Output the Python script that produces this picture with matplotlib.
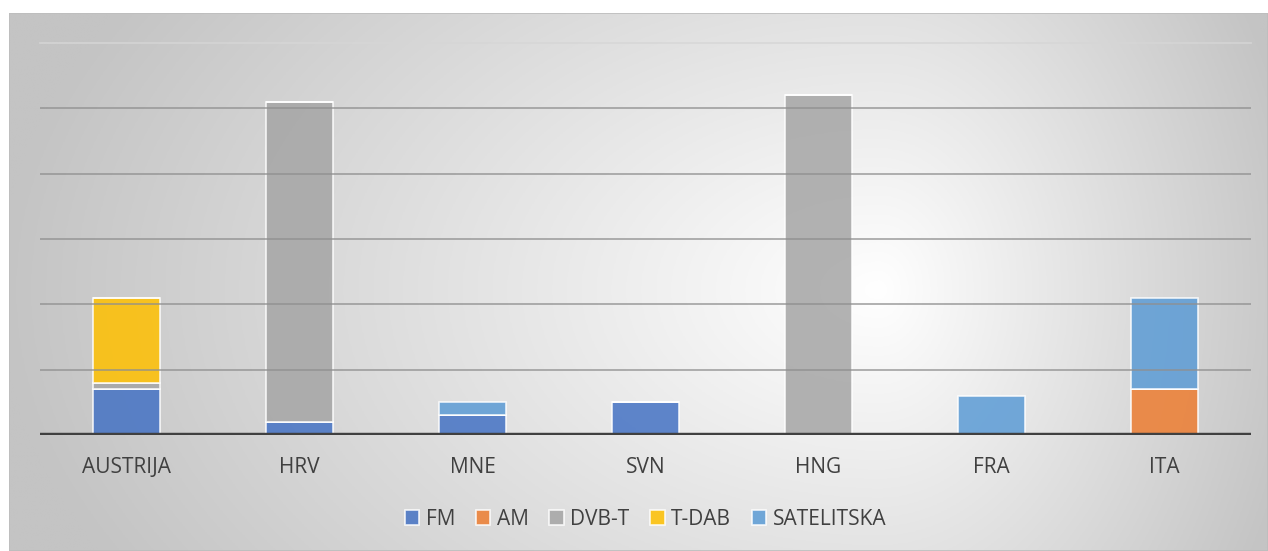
import numpy as np
import matplotlib.pyplot as plt
from matplotlib.patches import Rectangle

# ------ DATA ------
countries = ["AUSTRIJA", "HRV", "MNE", "SVN", "HNG", "FRA", "ITA"]
fm = [0.7, 0.2, 0.3, 0.5, 0.0, 0.0, 0.0]
am = [0.0, 0.0, 0.0, 0.0, 0.0, 0.0, 0.7]
dvbt = [0.1, 4.9, 0.0, 0.0, 5.2, 0.0, 0.0]
tdab = [1.3, 0.0, 0.0, 0.0, 0.0, 0.0, 0.0]
satelitska = [0.0, 0.0, 0.2, 0.0, 0.0, 0.6, 1.4]

series_names = ["FM", "AM", "DVB-T", "T-DAB", "SATELITSKA"]
series_colors = ["#4472C4", "#ED7D31", "#A5A5A5", "#FFC000", "#5B9BD5"]

W, H = 1268, 551
fig = plt.figure(figsize=(W / 100, H / 100), dpi=100)
plt.rcParams['font.family'] = ['Open Sans', 'DejaVu Sans']

# ------ BACKGROUND GRADIENT ------
bg = fig.add_axes([9 / W, 0, (W - 9) / W, (H - 13) / H])
bg.set_axis_off()
xs = np.linspace(9, W, 400)
ys = np.linspace(13, H, 200)
X, Y = np.meshgrid(xs, ys)
cx, cy = 880, 290
dx = np.where(X < cx, (X - cx) / 880, (X - cx) / 430)
dy = (Y - cy) / 560
t = np.clip(np.sqrt(dx ** 2 + dy ** 2), 0, 1)
shade = 1.0 - t * (1.0 - 0xc4 / 255)
bg.imshow(np.dstack([shade] * 3), extent=[0, 1, 0, 1], aspect='auto', origin='upper')
bg.add_patch(Rectangle((0, 0), 1, 1, transform=bg.transAxes, fill=False,
                       edgecolor='#bdbdbd', linewidth=1.2))

# ------ BARS ------
ax = fig.add_axes([40 / W, 116 / H, (1251 - 40) / W, (435 - 43) / H])
ax.patch.set_alpha(0)
x = np.arange(len(countries))
bottom = np.zeros(len(countries))
for name, vals, col in zip(series_names, [fm, am, dvbt, tdab, satelitska], series_colors):
    vals = np.array(vals)
    ax.bar(x, vals, 0.39, bottom=bottom, color=col, alpha=0.85, label=name,
           edgecolor=(1, 1, 1, 0.3), linewidth=1.2, zorder=3)
    bottom += vals

ax.set_xlim(-0.5, len(countries) - 0.5)
ax.set_ylim(0, 6)
for yv in range(1, 6):
    ax.axhline(yv, color='#8f8f8f', linewidth=1.3, alpha=0.75, zorder=4)
ax.axhline(6, color='#d6d6d6', linewidth=1.3, alpha=0.8, zorder=4, clip_on=False)
for s in ax.spines.values():
    s.set_visible(False)
ax.axhline(0, color='#404040', linewidth=3.2, zorder=5)
ax.set_yticks([])
ax.tick_params(axis='x', length=0, pad=16, labelsize=15, labelcolor='#404040')
ax.set_xticks(x)
ax.set_xticklabels(countries)

leg = ax.legend(loc='center', bbox_to_anchor=(0.5, -0.215), ncol=5, frameon=False,
                fontsize=15, handlelength=0.7, handleheight=0.7, handletextpad=0.3,
                columnspacing=1.0, labelcolor='#404040')

fig.savefig("out.png", dpi=100)
